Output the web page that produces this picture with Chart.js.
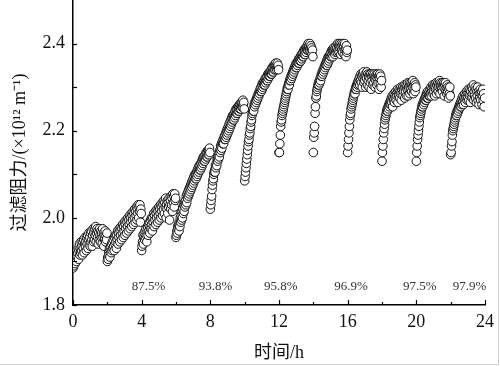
<!DOCTYPE html>
<html>
<head>
<meta charset="utf-8">
<script src="https://cdn.jsdelivr.net/npm/chart.js@4.4.1/dist/chart.umd.min.js"></script>
<style>
  html, body { margin: 0; padding: 0; background: #fff; }
  #wrap { width: 500px; height: 366px; }
</style>
</head>
<body>
<div id="wrap"><canvas id="c" width="500" height="366"></canvas></div>
<script>
// filtration cycles, one every 2 h, sampled every 0.025 h (80 samples per cycle)
const cycleStart = [0, 2, 4, 6, 8, 10, 12, 14, 16, 18, 20, 22];
const sampleStep = 0.025;

const c0 = [1.885, 1.90, 1.89, 1.905, 1.915, 1.895, 1.91, 1.92, 1.90, 1.925,
  1.91, 1.92, 1.93, 1.905, 1.925, 1.94, 1.915, 1.93, 1.92, 1.945,
  1.925, 1.935, 1.915, 1.945, 1.93, 1.95, 1.92, 1.94, 1.955, 1.935,
  1.945, 1.925, 1.955, 1.94, 1.96, 1.93, 1.95, 1.965, 1.94, 1.955,
  1.935, 1.965, 1.945, 1.97, 1.95, 1.935, 1.96, 1.975, 1.945, 1.965,
  1.95, 1.975, 1.96, 1.98, 1.945, 1.965, 1.975, 1.955, 1.97, 1.94,
  1.965, 1.95, 1.975, 1.96, 1.945, 1.97, 1.955, 1.965, 1.94, 1.975,
  1.955, 1.965, 1.935, 1.96, 1.95, 1.97, 1.945, 1.96, 1.95, 1.965];
const c1 = [1.90, 1.91, 1.905, 1.92, 1.915, 1.93, 1.91, 1.925, 1.935, 1.92,
  1.94, 1.925, 1.945, 1.93, 1.95, 1.935, 1.925, 1.955, 1.94, 1.96,
  1.945, 1.93, 1.96, 1.95, 1.97, 1.94, 1.965, 1.955, 1.975, 1.945,
  1.97, 1.96, 1.98, 1.95, 1.975, 1.965, 1.985, 1.955, 1.98, 1.97,
  1.99, 1.96, 1.985, 1.975, 1.995, 1.965, 1.99, 1.98, 2.00, 1.97,
  1.995, 1.985, 2.005, 1.975, 2.00, 1.99, 2.01, 1.98, 2.005, 1.995,
  2.015, 1.985, 2.01, 2.00, 2.02, 1.99, 2.015, 2.005, 2.025, 1.995,
  2.02, 2.01, 2.03, 2.00, 2.025, 2.015, 2.03, 1.99, 2.02, 2.01];
const c2 = [1.925, 1.935, 1.945, 1.96, 1.94, 1.955, 1.965, 1.95, 1.97, 1.955,
  1.975, 1.96, 1.945, 1.97, 1.98, 1.96, 1.985, 1.97, 1.99, 1.965,
  1.98, 1.995, 1.975, 2.00, 1.985, 1.97, 2.00, 1.99, 2.01, 1.98,
  2.005, 1.995, 2.015, 1.985, 2.01, 2.00, 2.02, 1.99, 2.015, 2.005,
  2.025, 1.995, 2.02, 2.01, 2.03, 2.00, 2.025, 2.015, 2.035, 2.005,
  2.03, 2.02, 2.04, 2.01, 2.035, 2.025, 2.045, 2.00, 2.03, 2.02,
  2.04, 2.01, 2.035, 2.025, 2.045, 1.995, 2.03, 2.04, 2.02, 2.05,
  2.03, 2.045, 2.015, 2.055, 2.035, 2.05, 2.025, 2.055, 2.04, 2.045];
const c3 = [1.955, 1.96, 1.97, 1.965, 1.98, 1.975, 1.985, 1.97, 1.99, 1.98,
  2.00, 1.99, 2.005, 1.995, 2.015, 2.00, 2.02, 2.01, 2.03, 2.015,
  2.035, 2.025, 2.04, 2.03, 2.05, 2.035, 2.055, 2.045, 2.06, 2.05,
  2.065, 2.055, 2.07, 2.06, 2.075, 2.065, 2.08, 2.07, 2.085, 2.075,
  2.09, 2.08, 2.095, 2.085, 2.10, 2.09, 2.10, 2.09, 2.105, 2.095,
  2.11, 2.10, 2.115, 2.105, 2.12, 2.11, 2.12, 2.11, 2.125, 2.115,
  2.13, 2.12, 2.135, 2.125, 2.14, 2.13, 2.14, 2.13, 2.145, 2.135,
  2.15, 2.14, 2.15, 2.14, 2.155, 2.145, 2.155, 2.145, 2.16, 2.15];
const c4 = [2.02, 2.03, 2.04, 2.05, 2.065, 2.075, 2.085, 2.09, 2.10, 2.105,
  2.11, 2.105, 2.12, 2.115, 2.125, 2.12, 2.135, 2.13, 2.14, 2.135,
  2.15, 2.14, 2.155, 2.15, 2.165, 2.155, 2.17, 2.16, 2.175, 2.17,
  2.18, 2.17, 2.185, 2.18, 2.19, 2.18, 2.195, 2.185, 2.20, 2.19,
  2.205, 2.195, 2.21, 2.20, 2.215, 2.205, 2.22, 2.21, 2.225, 2.215,
  2.23, 2.22, 2.235, 2.225, 2.235, 2.225, 2.24, 2.23, 2.245, 2.235,
  2.25, 2.24, 2.25, 2.24, 2.255, 2.245, 2.255, 2.245, 2.26, 2.25,
  2.26, 2.25, 2.265, 2.255, 2.265, 2.255, 2.27, 2.26, 2.265, 2.25];
const c5 = [2.085, 2.095, 2.105, 2.115, 2.125, 2.135, 2.145, 2.155, 2.165, 2.175,
  2.18, 2.19, 2.195, 2.205, 2.21, 2.22, 2.225, 2.235, 2.24, 2.245,
  2.25, 2.245, 2.26, 2.255, 2.265, 2.26, 2.27, 2.265, 2.275, 2.27,
  2.28, 2.275, 2.285, 2.28, 2.29, 2.285, 2.295, 2.29, 2.30, 2.29,
  2.305, 2.295, 2.31, 2.30, 2.31, 2.305, 2.315, 2.305, 2.32, 2.31,
  2.32, 2.315, 2.325, 2.315, 2.33, 2.32, 2.33, 2.325, 2.335, 2.325,
  2.335, 2.33, 2.34, 2.33, 2.345, 2.335, 2.345, 2.335, 2.35, 2.34,
  2.35, 2.34, 2.355, 2.345, 2.35, 2.34, 2.355, 2.345, 2.35, 2.34];
const c6 = [2.15, 2.15, 2.17, 2.19, 2.21, 2.22, 2.225, 2.235, 2.24, 2.245,
  2.25, 2.255, 2.26, 2.265, 2.27, 2.275, 2.28, 2.285, 2.29, 2.295,
  2.30, 2.295, 2.305, 2.31, 2.305, 2.315, 2.32, 2.315, 2.325, 2.32,
  2.33, 2.325, 2.335, 2.33, 2.34, 2.335, 2.345, 2.34, 2.35, 2.345,
  2.355, 2.345, 2.355, 2.35, 2.36, 2.355, 2.365, 2.355, 2.365, 2.36,
  2.37, 2.36, 2.375, 2.365, 2.375, 2.37, 2.38, 2.37, 2.385, 2.375,
  2.385, 2.375, 2.39, 2.38, 2.39, 2.385, 2.395, 2.385, 2.40, 2.39,
  2.395, 2.385, 2.40, 2.39, 2.395, 2.38, 2.39, 2.375, 2.385, 2.37];
const c7 = [2.15, 2.185, 2.195, 2.21, 2.24, 2.255, 2.275, 2.28, 2.29, 2.295,
  2.30, 2.305, 2.31, 2.305, 2.315, 2.31, 2.32, 2.315, 2.325, 2.33,
  2.325, 2.335, 2.33, 2.34, 2.335, 2.345, 2.34, 2.35, 2.345, 2.355,
  2.35, 2.36, 2.35, 2.365, 2.355, 2.37, 2.36, 2.37, 2.365, 2.375,
  2.37, 2.38, 2.37, 2.385, 2.375, 2.385, 2.37, 2.39, 2.38, 2.385,
  2.375, 2.39, 2.38, 2.395, 2.385, 2.39, 2.38, 2.40, 2.385, 2.395,
  2.38, 2.40, 2.39, 2.395, 2.375, 2.40, 2.385, 2.395, 2.38, 2.40,
  2.39, 2.395, 2.375, 2.40, 2.385, 2.39, 2.37, 2.395, 2.38, 2.385];
const c8 = [2.15, 2.165, 2.18, 2.195, 2.21, 2.225, 2.235, 2.24, 2.25, 2.255,
  2.26, 2.265, 2.27, 2.275, 2.28, 2.285, 2.29, 2.285, 2.295, 2.30,
  2.295, 2.305, 2.30, 2.31, 2.305, 2.315, 2.31, 2.32, 2.305, 2.325,
  2.315, 2.33, 2.31, 2.325, 2.30, 2.33, 2.32, 2.335, 2.31, 2.325,
  2.315, 2.33, 2.30, 2.325, 2.32, 2.335, 2.305, 2.33, 2.315, 2.325,
  2.30, 2.33, 2.32, 2.31, 2.33, 2.295, 2.325, 2.315, 2.33, 2.305,
  2.325, 2.31, 2.33, 2.32, 2.30, 2.325, 2.315, 2.33, 2.305, 2.32,
  2.33, 2.31, 2.325, 2.295, 2.32, 2.33, 2.31, 2.325, 2.30, 2.315];
const c9 = [2.13, 2.15, 2.165, 2.18, 2.195, 2.205, 2.215, 2.225, 2.23, 2.235,
  2.24, 2.245, 2.25, 2.245, 2.255, 2.25, 2.26, 2.255, 2.265, 2.26,
  2.27, 2.26, 2.275, 2.265, 2.28, 2.255, 2.275, 2.27, 2.285, 2.265,
  2.28, 2.275, 2.29, 2.27, 2.285, 2.28, 2.295, 2.265, 2.29, 2.28,
  2.295, 2.275, 2.29, 2.285, 2.30, 2.27, 2.295, 2.285, 2.30, 2.28,
  2.295, 2.29, 2.305, 2.275, 2.30, 2.29, 2.305, 2.28, 2.30, 2.295,
  2.31, 2.28, 2.30, 2.295, 2.31, 2.285, 2.305, 2.295, 2.31, 2.29,
  2.305, 2.30, 2.315, 2.285, 2.305, 2.295, 2.31, 2.29, 2.305, 2.30];
const c10 = [2.13, 2.15, 2.165, 2.18, 2.19, 2.20, 2.21, 2.22, 2.23, 2.235,
  2.24, 2.245, 2.25, 2.255, 2.26, 2.255, 2.265, 2.26, 2.27, 2.265,
  2.275, 2.27, 2.28, 2.27, 2.285, 2.275, 2.29, 2.275, 2.285, 2.28,
  2.29, 2.28, 2.295, 2.285, 2.30, 2.28, 2.295, 2.29, 2.305, 2.285,
  2.30, 2.29, 2.305, 2.28, 2.30, 2.295, 2.31, 2.285, 2.305, 2.295,
  2.31, 2.29, 2.305, 2.30, 2.315, 2.285, 2.31, 2.30, 2.305, 2.295,
  2.31, 2.29, 2.305, 2.30, 2.31, 2.28, 2.305, 2.295, 2.31, 2.29,
  2.30, 2.285, 2.305, 2.29, 2.30, 2.275, 2.295, 2.285, 2.30, 2.28];
const c11 = [2.145, 2.15, 2.165, 2.175, 2.19, 2.20, 2.205, 2.21, 2.215, 2.22,
  2.225, 2.23, 2.235, 2.24, 2.235, 2.245, 2.24, 2.25, 2.245, 2.255,
  2.25, 2.26, 2.255, 2.265, 2.255, 2.27, 2.26, 2.275, 2.265, 2.28,
  2.26, 2.275, 2.27, 2.285, 2.265, 2.28, 2.275, 2.29, 2.27, 2.285,
  2.275, 2.295, 2.27, 2.285, 2.28, 2.295, 2.265, 2.29, 2.28, 2.30,
  2.275, 2.295, 2.285, 2.305, 2.27, 2.29, 2.28, 2.30, 2.275, 2.295,
  2.265, 2.29, 2.28, 2.30, 2.27, 2.29, 2.26, 2.285, 2.275, 2.295,
  2.27, 2.285, 2.29, 2.26, 2.28, 2.295, 2.27, 2.285, 2.255, 2.275];
const cycles = [c0, c1, c2, c3, c4, c5, c6, c7, c8, c9, c10, c11];

// removal rate written above the x axis for each cycle
const rateLabels = ['87.5%', '93.8%', '95.8%', '96.9%', '97.5%', '97.9%'];
const rateHours = [4.4, 8.3, 12.1, 16.2, 20.2, 23.1];
const rateLevel = 1.842;

const xTicks = ['0', '4', '8', '12', '16', '20', '24'];
const yTicks = ['1.8', '2.0', '2.2', '2.4'];

const points = [];
cycles.forEach((vals, k) => {
  vals.forEach((v, i) => {
    points.push({ x: cycleStart[k] + i * sampleStep, y: v });
  });
});

const serif = "'Liberation Serif', 'Times New Roman', 'Noto Sans CJK SC', serif";

const extras = {
  id: 'extras',
  afterDraw(chart) {
    const ctx = chart.ctx;
    const a = chart.chartArea;
    const xs = chart.scales.x, ys = chart.scales.y;
    ctx.save();
    ctx.strokeStyle = '#000';
    ctx.lineWidth = 1.2;
    xs.ticks.forEach(t => {
      const px = Math.round(xs.getPixelForValue(t.value)) + 0.5;
      const len = Math.round(t.value) % 4 === 0 ? 5 : 3;
      ctx.beginPath();
      ctx.moveTo(px, a.bottom);
      ctx.lineTo(px, a.bottom - len);
      ctx.stroke();
    });
    ys.ticks.forEach(t => {
      if (t.value > 2.45) return;
      const py = Math.round(ys.getPixelForValue(t.value)) + 0.5;
      ctx.beginPath();
      ctx.moveTo(a.left, py);
      ctx.lineTo(a.left + 4, py);
      ctx.stroke();
    });
    ctx.fillStyle = '#333';
    ctx.font = '13px ' + serif;
    ctx.textAlign = 'center';
    ctx.textBaseline = 'middle';
    rateLabels.forEach((s, i) => {
      ctx.fillText(s, xs.getPixelForValue(rateHours[i]), ys.getPixelForValue(rateLevel));
    });
    // faint frame of the scanned figure
    ctx.strokeStyle = '#d0d0d0';
    ctx.lineWidth = 1;
    ctx.beginPath();
    ctx.moveTo(498.5, 0);
    ctx.lineTo(498.5, 364.5);
    ctx.lineTo(0, 364.5);
    ctx.stroke();
    ctx.restore();
  }
};

new Chart(document.getElementById('c'), {
  type: 'scatter',
  data: {
    datasets: [{
      data: points,
      pointRadius: 4.3,
      pointHoverRadius: 4.3,
      pointBorderWidth: 1,
      pointBorderColor: '#111',
      pointBackgroundColor: '#fff'
    }]
  },
  options: {
    responsive: false,
    animation: false,
    layout: { autoPadding: false, padding: { top: 0, right: 12, bottom: 0, left: 0 } },
    plugins: { legend: { display: false }, tooltip: { enabled: false } },
    scales: {
      x: {
        type: 'linear',
        min: 0, max: 24,
        afterFit: s => { s.height = 61; },
        ticks: {
          stepSize: 2,
          padding: 6,
          maxRotation: 0,
          autoSkip: false,
          color: '#111',
          font: { family: serif, size: 18 },
          callback: v => (xTicks.includes(String(v)) ? String(v) : '')
        },
        grid: { drawOnChartArea: false, drawTicks: false },
        border: { color: '#000', width: 1.5 },
        title: {
          display: true,
          text: '时间/h',
          color: '#111',
          font: { family: serif, size: 18 },
          padding: { top: 0, bottom: 2 }
        }
      },
      y: {
        min: 1.8, max: 2.5,
        afterFit: s => { s.width = 73; s.paddingTop = 0; s.paddingBottom = 0; },
        ticks: {
          stepSize: 0.1,
          padding: 8,
          autoSkip: false,
          color: '#111',
          font: { family: serif, size: 18 },
          callback: v => {
            const s = v.toFixed(1);
            return yTicks.includes(s) ? s : '';
          }
        },
        grid: { drawOnChartArea: false, drawTicks: false },
        border: { color: '#000', width: 1.5 },
        title: {
          display: true,
          text: '过滤阻力/(×10¹² m⁻¹)',
          color: '#111',
          font: { family: serif, size: 18 },
          padding: { top: 9, bottom: 0 }
        }
      }
    }
  },
  plugins: [extras]
});
</script>
</body>
</html>
